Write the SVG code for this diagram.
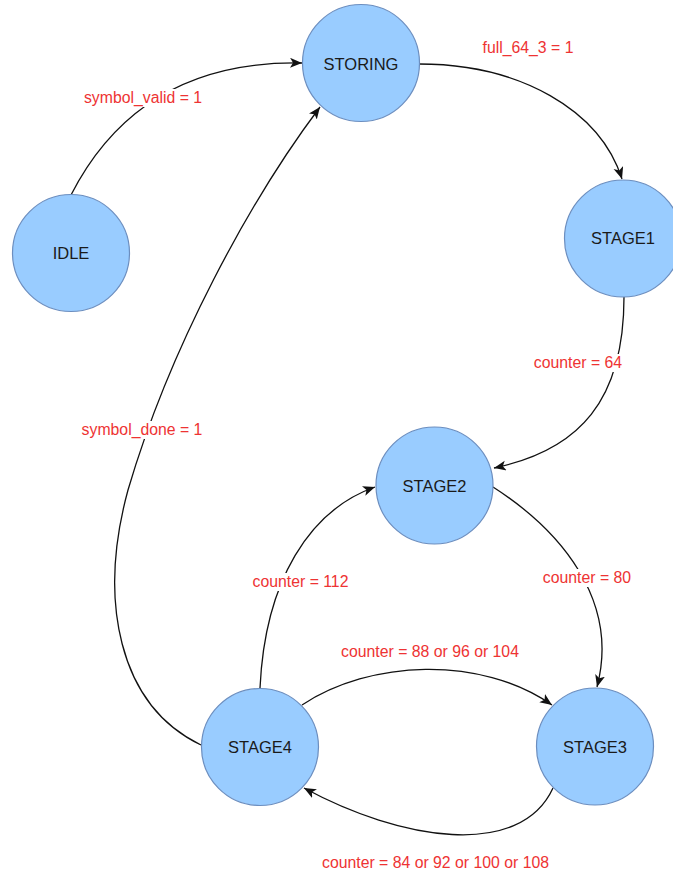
<svg xmlns="http://www.w3.org/2000/svg" width="673" height="876" viewBox="0 0 673 876">
  <style>
    .state circle { fill: #99CCFF; stroke: #6C8EBF; stroke-width: 1.2; }
    .state text { font-family: "Liberation Sans", Arial, sans-serif; font-size: 16.5px; fill: #1a1a1a; text-anchor: middle; }
    .edge { fill: none; stroke: #111; stroke-width: 1.3; marker-end: url(#arrow); }
    .lbl rect { fill: #ffffff; }
    .lbl text { font-family: "Liberation Sans", Arial, sans-serif; font-size: 15.8px; fill: #EE3333; text-anchor: middle; }
  </style>
  <defs>
    <marker id="arrow" markerUnits="userSpaceOnUse" markerWidth="13" markerHeight="11" refX="12" refY="5" orient="auto">
      <path d="M0,0 L12,5 L0,10 L3,5 Z" fill="#111"/>
    </marker>
  </defs>

  <rect width="673" height="876" fill="#ffffff"/>

  <!-- transitions -->
  <g id="connectors">
    <path class="edge" d="M71,195 Q140,60 302,63"/>
    <path class="edge" d="M419,64 C520,64 600,110 622,179"/>
    <path class="edge" d="M624,297 C624,400 580,450 494,468"/>
    <path class="edge" d="M493,487 C560,530 620,600 597,687"/>
    <path class="edge" d="M260,688 C265,580 310,510 375,487"/>
    <path class="edge" d="M302,705 C370,660 480,655 552,705"/>
    <path class="edge" d="M553,788 C520,860 400,840 304,788"/>
    <path class="edge" d="M201,745 C118,705 98,600 128,490 C170,347 250,200 320,107"/>

    <g class="lbl">
      <rect x="82" y="89" width="122" height="18"/>
      <text x="143" y="103">symbol_valid = 1</text>
      <rect x="481" y="39" width="94" height="18"/>
      <text x="528" y="53">full_64_3 = 1</text>
      <rect x="531" y="354" width="94" height="18"/>
      <text x="578" y="368">counter = 64</text>
      <rect x="80" y="421" width="124" height="18"/>
      <text x="142" y="435">symbol_done = 1</text>
      <rect x="250" y="573" width="101" height="18"/>
      <text x="300.5" y="587">counter = 112</text>
      <rect x="540" y="569" width="94" height="18"/>
      <text x="587" y="583">counter = 80</text>
      <rect x="339" y="643" width="182" height="18"/>
      <text x="430" y="657">counter = 88 or 96 or 104</text>
      <rect x="319" y="854" width="233" height="18"/>
      <text x="435.5" y="868">counter = 84 or 92 or 100 or 108</text>
    </g>
  </g>

  <!-- states -->
  <g id="STORING" class="state">
    <circle cx="361" cy="63" r="58.5"/>
    <text x="361" y="69.5">STORING</text>
  </g>
  <g id="IDLE" class="state">
    <circle cx="71" cy="253" r="58.5"/>
    <text x="71" y="259">IDLE</text>
  </g>
  <g id="STAGE1" class="state">
    <circle cx="623" cy="238.5" r="58.5"/>
    <text x="623" y="244">STAGE1</text>
  </g>
  <g id="STAGE2" class="state">
    <circle cx="434.5" cy="485.5" r="58.5"/>
    <text x="434.5" y="492">STAGE2</text>
  </g>
  <g id="STAGE4" class="state">
    <circle cx="260" cy="747" r="58.5"/>
    <text x="260" y="753">STAGE4</text>
  </g>
  <g id="STAGE3" class="state">
    <circle cx="595" cy="746.5" r="58.5"/>
    <text x="595" y="753">STAGE3</text>
  </g>
</svg>
